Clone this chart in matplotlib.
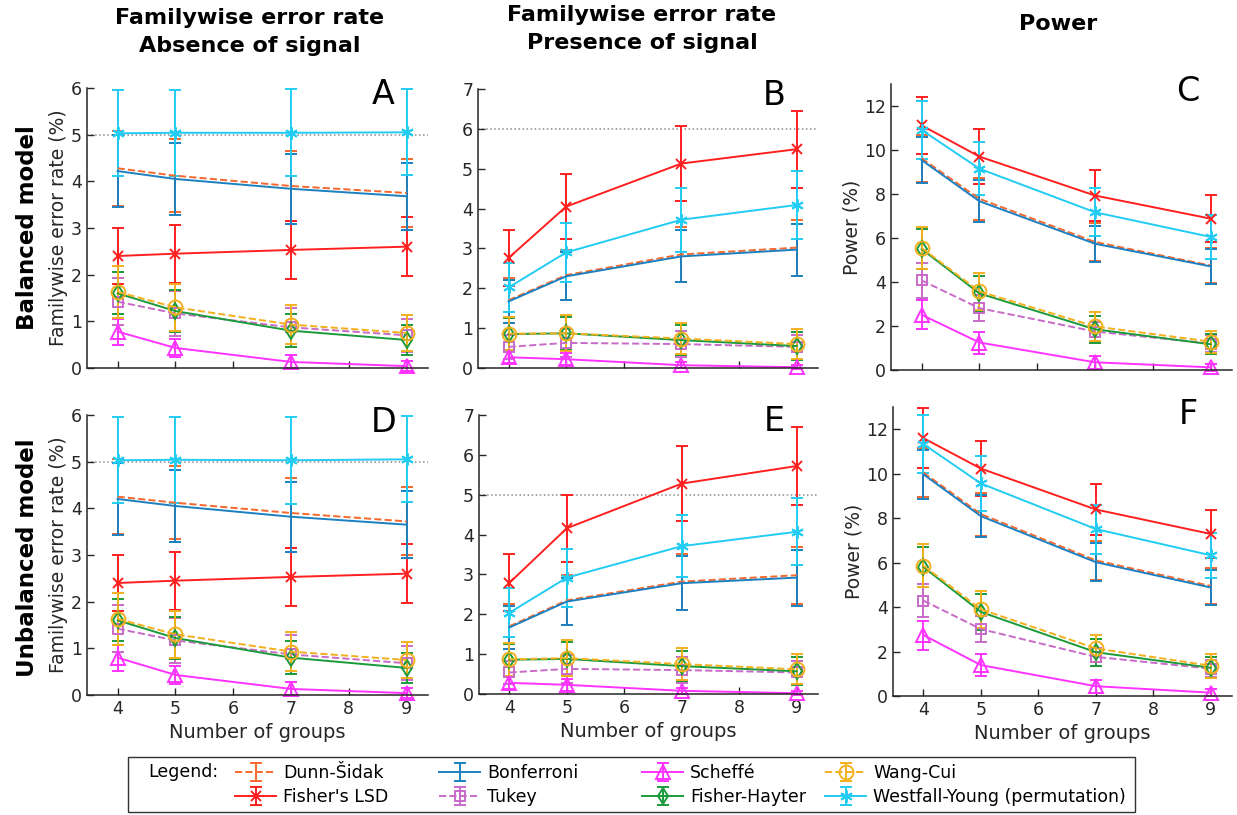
import numpy as np
import matplotlib
matplotlib.use("Agg")
import matplotlib.pyplot as plt
from matplotlib.patches import Rectangle

# methods, in legend order
methods = ["Dunn-Šidak", "Fisher's LSD", "Bonferroni", "Tukey",
           "Scheffé", "Fisher-Hayter", "Wang-Cui", "Westfall-Young (permutation)"]
groups = [4, 5, 7, 9]

# mean values (%) per panel, one row per method (same order as methods)
mean_A = [[4.28, 4.12, 3.90, 3.75], [2.40, 2.45, 2.53, 2.60], [4.22, 4.05, 3.84, 3.68],
          [1.42, 1.17, 0.87, 0.70], [0.78, 0.43, 0.13, 0.04], [1.60, 1.22, 0.80, 0.60],
          [1.63, 1.30, 0.93, 0.75], [5.03, 5.04, 5.04, 5.05]]
err_A = [[0.80, 0.78, 0.75, 0.73], [0.60, 0.62, 0.62, 0.63], [0.78, 0.78, 0.75, 0.72],
         [0.50, 0.48, 0.42, 0.36], [0.28, 0.20, 0.14, 0.10], [0.45, 0.45, 0.35, 0.32],
         [0.55, 0.50, 0.42, 0.38], [0.92, 0.92, 0.93, 0.92]]

mean_B = [[1.70, 2.33, 2.85, 3.02], [2.76, 4.05, 5.13, 5.49], [1.67, 2.30, 2.80, 2.97],
          [0.53, 0.63, 0.60, 0.53], [0.27, 0.22, 0.07, 0.02], [0.85, 0.87, 0.70, 0.55],
          [0.86, 0.87, 0.74, 0.60], [2.02, 2.90, 3.72, 4.09]]
err_B = [[0.57, 0.62, 0.68, 0.70], [0.71, 0.82, 0.93, 0.97], [0.55, 0.60, 0.65, 0.65],
         [0.30, 0.35, 0.32, 0.30], [0.15, 0.15, 0.08, 0.05], [0.40, 0.42, 0.38, 0.35],
         [0.42, 0.45, 0.40, 0.38], [0.62, 0.75, 0.80, 0.85]]

mean_C = [[9.62, 7.78, 5.82, 4.75], [11.12, 9.70, 7.93, 6.88], [9.54, 7.67, 5.74, 4.71],
          [4.07, 2.81, 1.75, 1.20], [2.51, 1.25, 0.35, 0.12], [5.50, 3.48, 1.85, 1.17],
          [5.55, 3.57, 1.98, 1.29], [10.91, 9.15, 7.17, 6.05]]
err_C = [[1.08, 0.97, 0.85, 0.80], [1.30, 1.24, 1.15, 1.07], [1.05, 0.95, 0.82, 0.78],
         [0.78, 0.60, 0.45, 0.40], [0.65, 0.50, 0.30, 0.15], [0.90, 0.80, 0.60, 0.45],
         [0.95, 0.82, 0.65, 0.50], [1.30, 1.20, 1.10, 1.00]]

mean_D = [[4.25, 4.12, 3.90, 3.72], [2.40, 2.45, 2.53, 2.60], [4.20, 4.05, 3.82, 3.65],
          [1.42, 1.17, 0.87, 0.68], [0.80, 0.43, 0.13, 0.04], [1.60, 1.22, 0.80, 0.58],
          [1.63, 1.30, 0.93, 0.75], [5.03, 5.04, 5.03, 5.05]]
err_D = [[0.80, 0.78, 0.75, 0.73], [0.60, 0.62, 0.62, 0.63], [0.78, 0.78, 0.75, 0.72],
         [0.50, 0.48, 0.42, 0.36], [0.28, 0.20, 0.14, 0.10], [0.45, 0.45, 0.35, 0.32],
         [0.55, 0.50, 0.42, 0.38], [0.92, 0.92, 0.93, 0.92]]

mean_E = [[1.70, 2.35, 2.82, 2.98], [2.79, 4.16, 5.28, 5.72], [1.67, 2.32, 2.78, 2.92],
          [0.54, 0.63, 0.60, 0.54], [0.28, 0.23, 0.08, 0.02], [0.86, 0.88, 0.70, 0.57],
          [0.87, 0.90, 0.75, 0.62], [2.04, 2.92, 3.71, 4.07]]
err_E = [[0.57, 0.63, 0.70, 0.72], [0.72, 0.84, 0.95, 0.98], [0.55, 0.60, 0.68, 0.70],
         [0.30, 0.35, 0.32, 0.30], [0.15, 0.15, 0.08, 0.05], [0.40, 0.42, 0.38, 0.35],
         [0.42, 0.45, 0.40, 0.38], [0.62, 0.73, 0.78, 0.84]]

mean_F = [[10.05, 8.18, 6.10, 4.95], [11.60, 10.23, 8.39, 7.29], [9.97, 8.09, 6.02, 4.88],
          [4.29, 3.01, 1.76, 1.23], [2.74, 1.39, 0.44, 0.15], [5.80, 3.78, 1.97, 1.27],
          [5.86, 3.90, 2.14, 1.36], [11.33, 9.56, 7.51, 6.33]]
err_F = [[1.12, 0.97, 0.87, 0.80], [1.34, 1.25, 1.16, 1.07], [1.10, 0.95, 0.85, 0.78],
         [0.75, 0.60, 0.42, 0.38], [0.65, 0.50, 0.30, 0.15], [0.90, 0.80, 0.60, 0.48],
         [0.97, 0.82, 0.62, 0.55], [1.30, 1.22, 1.10, 1.00]]

colors = ["#F5692E", "#FF1F1F", "#1C80C0", "#C86BC8", "#FF33FF", "#1B9A3B", "#F2B01E", "#22CCF2"]
styles = ["--", "-", "-", "--", "-", "-", "--", "-"]
markers = ["", "x", "", "s", "^", "d", "o", (6, 2, 0)]
msizes = [0, 7, 0, 7, 10, 8, 10, 9]

plt.rcParams['font.family'] = 'DejaVu Sans'
fig = plt.figure(figsize=(12.37, 8.15), dpi=100)
W, H = 1237.0, 815.0

def ax_at(x0, y_top, x1, y_bot):
    return fig.add_axes([x0 / W, 1 - y_bot / H, (x1 - x0) / W, (y_bot - y_top) / H])

panels = [
    ("A", ax_at(87, 88, 428, 368), mean_A, err_A, 6, 5),
    ("B", ax_at(478, 89, 818, 368), mean_B, err_B, 7, 6),
    ("C", ax_at(891, 84, 1232, 370), mean_C, err_C, 13, None),
    ("D", ax_at(87, 415, 428, 695), mean_D, err_D, 6, 5),
    ("E", ax_at(479, 415, 818, 694), mean_E, err_E, 7, 5),
    ("F", ax_at(893, 407, 1232, 696), mean_F, err_F, 13, None),
]

handles = []
for letter, ax, means, errs, ytop, ref in panels:
    if ref is not None:
        ax.axhline(ref, color="#8c8c8c", linestyle=":", linewidth=1.1, zorder=1)
    hs = []
    for i in range(len(methods)):
        h = ax.errorbar(groups, means[i], yerr=errs[i], color=colors[i], linestyle=styles[i],
                        linewidth=1.4, elinewidth=1.4, capsize=4, capthick=1.4,
                        marker=markers[i] if markers[i] != "" else None,
                        markersize=msizes[i], markerfacecolor="none", markeredgewidth=1.4,
                        label=methods[i], clip_on=False)
        hs.append(h)
    if letter == "A":
        handles = hs
    ax.set_xlim(3.47, 9.37)
    ax.set_ylim(0, ytop)
    ax.set_xticks([4, 5, 6, 7, 8, 9])
    if ytop == 13:
        ax.set_yticks([0, 2, 4, 6, 8, 10, 12])
    else:
        ax.set_yticks(range(0, ytop + 1))
    ax.spines["top"].set_visible(False)
    ax.spines["right"].set_visible(False)
    for s in ["left", "bottom"]:
        ax.spines[s].set_color("#262626")
        ax.spines[s].set_linewidth(1.1)
    ax.tick_params(direction="in", length=5, width=1.0, colors="#262626", labelsize=12.5)
    if letter in "ABC":
        ax.tick_params(axis="x", labelbottom=False)
    else:
        ax.set_xlabel("Number of groups", fontsize=14, color="#262626")
    if letter in "AD":
        ax.set_ylabel("Familywise error rate (%)", fontsize=13.5, color="#262626", labelpad=2)
    if letter in "CF":
        ax.set_ylabel("Power (%)", fontsize=13.5, color="#262626", labelpad=2)
    ax.text(0.87, 0.975, letter, transform=ax.transAxes, fontsize=24,
            ha="center", va="center", color="black")

# column titles
fig.text(250 / W, 1 - 18 / H, "Familywise error rate", ha="center", va="center",
         fontsize=16, fontweight="bold")
fig.text(250 / W, 1 - 46 / H, "Absence of signal", ha="center", va="center",
         fontsize=16, fontweight="bold")
fig.text(642 / W, 1 - 15 / H, "Familywise error rate", ha="center", va="center",
         fontsize=16, fontweight="bold")
fig.text(642 / W, 1 - 43 / H, "Presence of signal", ha="center", va="center",
         fontsize=16, fontweight="bold")
fig.text(1058 / W, 1 - 24 / H, "Power", ha="center", va="center",
         fontsize=16, fontweight="bold")

# row titles
fig.text(28 / W, 1 - 228 / H, "Balanced model", rotation=90, ha="center", va="center",
         fontsize=16.5, fontweight="bold")
fig.text(28 / W, 1 - 558 / H, "Unbalanced model", rotation=90, ha="center", va="center",
         fontsize=16.5, fontweight="bold")

# legend box
fig.patches.append(Rectangle((128 / W, 1 - 812 / H), 1007 / W, 55 / H, transform=fig.transFigure,
                             fill=False, edgecolor="#333333", linewidth=1.0))
fig.text(148 / W, 1 - 772 / H, "Legend:", ha="left", va="center", fontsize=12.5)
col_x = [226, 430, 633, 816]
for c in range(4):
    hh = handles[2 * c:2 * c + 2]
    ll = methods[2 * c:2 * c + 2]
    fig.legend(hh, ll, loc="center left", bbox_to_anchor=(col_x[c] / W, 1 - 785 / H),
               frameon=False, fontsize=12.5, handlelength=2.4, handletextpad=0.4,
               labelspacing=0.35, borderpad=0.0)

fig.savefig("out.png", dpi=100)
